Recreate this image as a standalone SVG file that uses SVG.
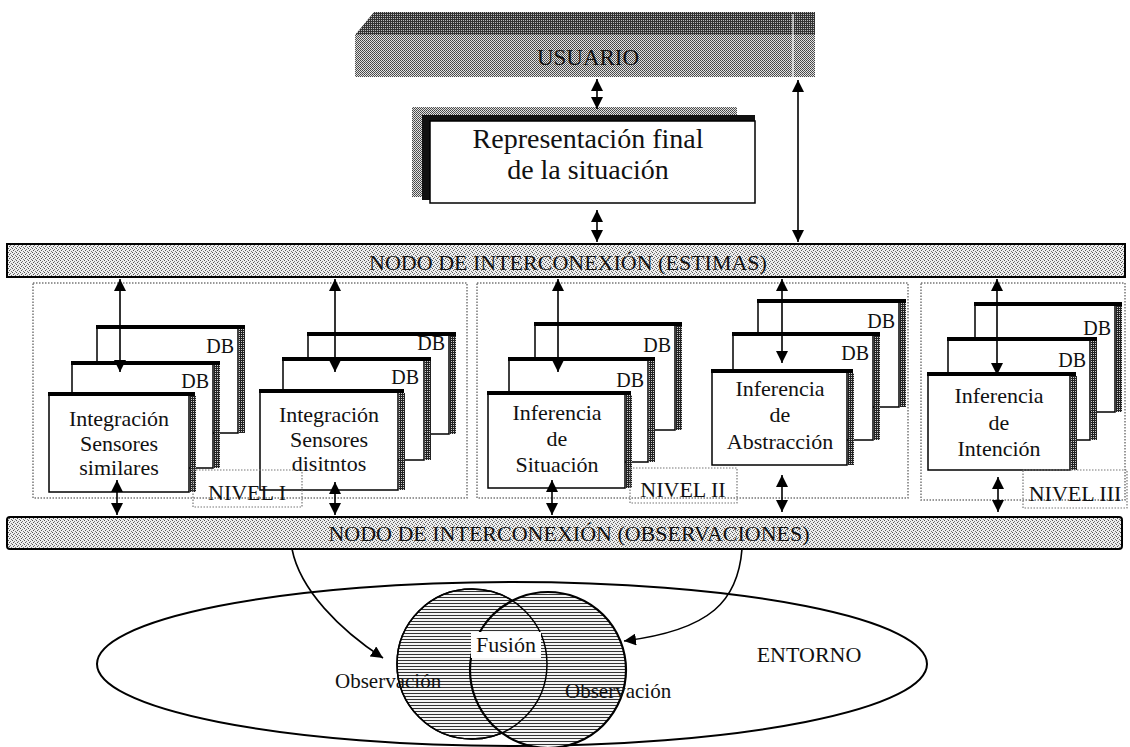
<svg xmlns="http://www.w3.org/2000/svg" width="1130" height="747" viewBox="0 0 1130 747" font-family="'Liberation Serif','Times New Roman',serif">
<defs>
<pattern id="lt" width="4" height="4" patternUnits="userSpaceOnUse"><rect width="4" height="4" fill="#eeeeee"/><rect x="0" y="0" width="1" height="1" fill="#555"/><rect x="2" y="1" width="1" height="1" fill="#777"/><rect x="1" y="2" width="1" height="1" fill="#555"/><rect x="3" y="3" width="1" height="1" fill="#777"/></pattern>
<pattern id="md" width="2" height="2" patternUnits="userSpaceOnUse"><rect width="2" height="2" fill="#e2e2e2"/><rect x="0" y="0" width="1" height="1" fill="#444"/><rect x="1" y="1" width="1" height="1" fill="#555"/></pattern>
<pattern id="dk" width="2" height="2" patternUnits="userSpaceOnUse"><rect width="2" height="2" fill="#333"/><rect x="1" y="0" width="1" height="1" fill="#bbb"/></pattern>
<pattern id="sh" width="2" height="2" patternUnits="userSpaceOnUse"><rect width="2" height="2" fill="#222"/><rect x="1" y="1" width="1" height="1" fill="#ccc"/></pattern>
<pattern id="hatch" width="4" height="3" patternUnits="userSpaceOnUse"><rect width="4" height="3" fill="#f4f4f4"/><rect x="0" y="0" width="4" height="1" fill="#333"/></pattern>
<marker id="ah" viewBox="0 0 12 12" refX="12" refY="6" markerWidth="12" markerHeight="12" markerUnits="userSpaceOnUse" orient="auto-start-reverse"><path d="M0,0 L12,6 L0,12 z" fill="#000"/></marker>
</defs>
<style>
text{font-family:"Liberation Serif","Times New Roman",serif;fill:#111}
.card{fill:#fff;stroke:#000;stroke-width:1.5}
.top{fill:#000}
.rs{fill:url(#sh)}
.lbl{font-size:22px;text-anchor:middle}
.db{font-size:20px;text-anchor:end}
.obs{font-size:21px}
.panel{fill:none;stroke:#777;stroke-width:1.5;stroke-dasharray:1.5 1.5}
.niv{fill:none;stroke:#777;stroke-width:1.2;stroke-dasharray:1.5 1.5}
.bar{fill:url(#lt);stroke:#000;stroke-width:2}
.con{fill:none;stroke:#000;stroke-width:1.6}
.dbl{marker-start:url(#ah);marker-end:url(#ah)}
.one{marker-end:url(#ah)}
</style>
<rect width="1130" height="747" fill="#fff"/>

<g id="usuario">
<polygon points="355,35 374,12 815,12 815,35" fill="url(#dk)"/>
<rect x="355" y="35" width="460" height="42" fill="url(#md)"/>
<line x1="793" y1="14" x2="793" y2="77" stroke="#fff" stroke-width="1.2"/>
<text x="588" y="65" class="lbl" style="font-size:23px">USUARIO</text>
</g>

<g id="representacion">
<rect x="412" y="107" width="325" height="90" fill="url(#md)"/>
<rect x="422" y="115" width="333" height="85" fill="#111"/>
<rect x="430" y="121" width="325" height="82" fill="#fff" stroke="#000" stroke-width="1.5"/>
<text x="588" y="148" class="lbl" style="font-size:28px">Representación final</text>
<text x="588" y="179" class="lbl" style="font-size:28px">de la situación</text>
</g>

<g id="estimas">
<rect x="7" y="244" width="1118" height="33" class="bar"/>
<text x="568" y="270" class="lbl">NODO DE INTERCONEXIÓN (ESTIMAS)</text>
</g>

<g id="panel-1"><rect x="33" y="283" width="434" height="215" class="panel"/></g>
<g id="panel-2"><rect x="477" y="283" width="431" height="215" class="panel"/></g>
<g id="panel-3"><rect x="921" y="283" width="204" height="217" class="panel"/></g>

<g id="stack-a">
<rect x="97" y="328" width="141" height="105" class="card"/><rect x="96" y="325" width="149" height="4" class="top"/><rect x="239" y="329" width="6" height="104" class="rs"/>
<text x="234" y="353" class="db">DB</text>
<rect x="72" y="364" width="141" height="104" class="card"/><rect x="71" y="361" width="149" height="4" class="top"/><rect x="214" y="365" width="6" height="103" class="rs"/>
<text x="209" y="388" class="db">DB</text>
<rect x="49" y="395" width="140" height="97" class="card"/><rect x="48" y="392" width="147" height="4" class="top"/><rect x="190" y="396" width="6" height="96" class="rs"/>
<text x="119" y="426" class="lbl">Integración</text>
<text x="119" y="451" class="lbl">Sensores</text>
<text x="119" y="475" class="lbl">similares</text>
</g>

<g id="stack-b">
<rect x="308" y="335" width="141" height="99" class="card"/><rect x="307" y="332" width="149" height="4" class="top"/><rect x="450" y="336" width="6" height="98" class="rs"/>
<text x="445" y="350" class="db">DB</text>
<rect x="283" y="360" width="141" height="100" class="card"/><rect x="282" y="357" width="149" height="4" class="top"/><rect x="425" y="361" width="6" height="99" class="rs"/>
<text x="419" y="384" class="db">DB</text>
<rect x="260" y="392" width="138" height="98" class="card"/><rect x="259" y="389" width="145" height="4" class="top"/><rect x="399" y="393" width="6" height="97" class="rs"/>
<text x="329" y="422" class="lbl">Integración</text>
<text x="329" y="447" class="lbl">Sensores</text>
<text x="329" y="471" class="lbl">disitntos</text>
</g>

<g id="stack-c">
<rect x="535" y="325" width="140" height="105" class="card"/><rect x="534" y="322" width="148" height="4" class="top"/><rect x="676" y="326" width="6" height="104" class="rs"/>
<text x="671" y="352" class="db">DB</text>
<rect x="509" y="360" width="139" height="102" class="card"/><rect x="508" y="357" width="147" height="4" class="top"/><rect x="649" y="361" width="6" height="101" class="rs"/>
<text x="644" y="387" class="db">DB</text>
<rect x="488" y="394" width="137" height="94" class="card"/><rect x="487" y="391" width="144" height="4" class="top"/><rect x="626" y="395" width="6" height="93" class="rs"/>
<text x="557" y="420" class="lbl">Inferencia</text>
<text x="557" y="446" class="lbl">de</text>
<text x="557" y="472" class="lbl">Situación</text>
</g>

<g id="stack-d">
<rect x="758" y="302" width="141" height="105" class="card"/><rect x="757" y="299" width="149" height="4" class="top"/><rect x="900" y="303" width="6" height="104" class="rs"/>
<text x="895" y="328" class="db">DB</text>
<rect x="733" y="335" width="140" height="105" class="card"/><rect x="732" y="332" width="148" height="4" class="top"/><rect x="874" y="336" width="6" height="104" class="rs"/>
<text x="869" y="360" class="db">DB</text>
<rect x="712" y="372" width="135" height="93" class="card"/><rect x="711" y="369" width="142" height="4" class="top"/><rect x="848" y="373" width="6" height="92" class="rs"/>
<text x="780" y="396" class="lbl">Inferencia</text>
<text x="780" y="422" class="lbl">de</text>
<text x="780" y="449" class="lbl">Abstracción</text>
</g>

<g id="stack-e">
<rect x="975" y="305" width="140" height="107" class="card"/><rect x="974" y="302" width="148" height="4" class="top"/><rect x="1116" y="306" width="6" height="106" class="rs"/>
<text x="1111" y="335" class="db">DB</text>
<rect x="948" y="340" width="142" height="100" class="card"/><rect x="947" y="337" width="150" height="4" class="top"/><rect x="1091" y="341" width="6" height="99" class="rs"/>
<text x="1086" y="367" class="db">DB</text>
<rect x="928" y="375" width="142" height="95" class="card"/><rect x="927" y="372" width="149" height="4" class="top"/><rect x="1071" y="376" width="6" height="94" class="rs"/>
<text x="999" y="403" class="lbl">Inferencia</text>
<text x="999" y="430" class="lbl">de</text>
<text x="999" y="456" class="lbl">Intención</text>
</g>

<g id="nivel-1"><rect x="193" y="470" width="109" height="37" class="niv"/><text x="247" y="500" class="lbl">NIVEL I</text></g>
<g id="nivel-2"><rect x="630" y="468" width="107" height="35" class="niv"/><text x="683" y="497" class="lbl">NIVEL II</text></g>
<g id="nivel-3"><rect x="1023" y="470" width="104" height="38" class="niv"/><text x="1075" y="501" class="lbl">NIVEL III</text></g>

<g id="observaciones">
<rect x="7" y="517" width="1115" height="32" rx="3" class="bar"/>
<text x="569" y="541" class="lbl">NODO DE INTERCONEXIÓN (OBSERVACIONES)</text>
</g>

<g id="entorno">
<ellipse cx="512" cy="664" rx="415" ry="82" fill="none" stroke="#000" stroke-width="2"/>
<text x="809" y="662" class="lbl">ENTORNO</text>
</g>

<g id="fusion">
<circle cx="472" cy="664" r="75" fill="url(#hatch)" stroke="#000" stroke-width="1.5"/>
<circle cx="548" cy="670" r="78" fill="url(#hatch)" stroke="#000" stroke-width="2.2"/>
<circle cx="472" cy="664" r="75" fill="none" stroke="#000" stroke-width="1.5"/>
<rect x="471" y="632" width="70" height="26" fill="#fff"/>
<text x="506" y="652" class="lbl">Fusión</text>
</g>
<g id="obs-left"><text x="335" y="688" class="obs">Observación</text></g>
<g id="obs-right"><text x="565" y="698" class="obs">Observación</text></g>

<g id="connectors">
<line x1="597" y1="79" x2="597" y2="109" class="con dbl"/>
<line x1="597" y1="210" x2="597" y2="242" class="con dbl"/>
<line x1="798" y1="80" x2="798" y2="242" class="con dbl"/>
<line x1="120" y1="279" x2="120" y2="372" class="con dbl"/>
<line x1="335" y1="279" x2="335" y2="372" class="con dbl"/>
<line x1="558" y1="279" x2="558" y2="372" class="con dbl"/>
<line x1="782" y1="279" x2="782" y2="363" class="con dbl"/>
<line x1="997" y1="279" x2="997" y2="375" class="con dbl"/>
<line x1="117" y1="480" x2="117" y2="515" class="con dbl"/>
<line x1="335" y1="482" x2="335" y2="515" class="con dbl"/>
<line x1="552" y1="480" x2="552" y2="515" class="con dbl"/>
<line x1="782" y1="475" x2="782" y2="512" class="con dbl"/>
<line x1="998" y1="477" x2="998" y2="512" class="con dbl"/>
<path d="M292,549 C300,590 340,630 383,658" class="con one"/>
<path d="M742,549 C738,600 712,630 624,641" class="con one"/>
</g>
</svg>
